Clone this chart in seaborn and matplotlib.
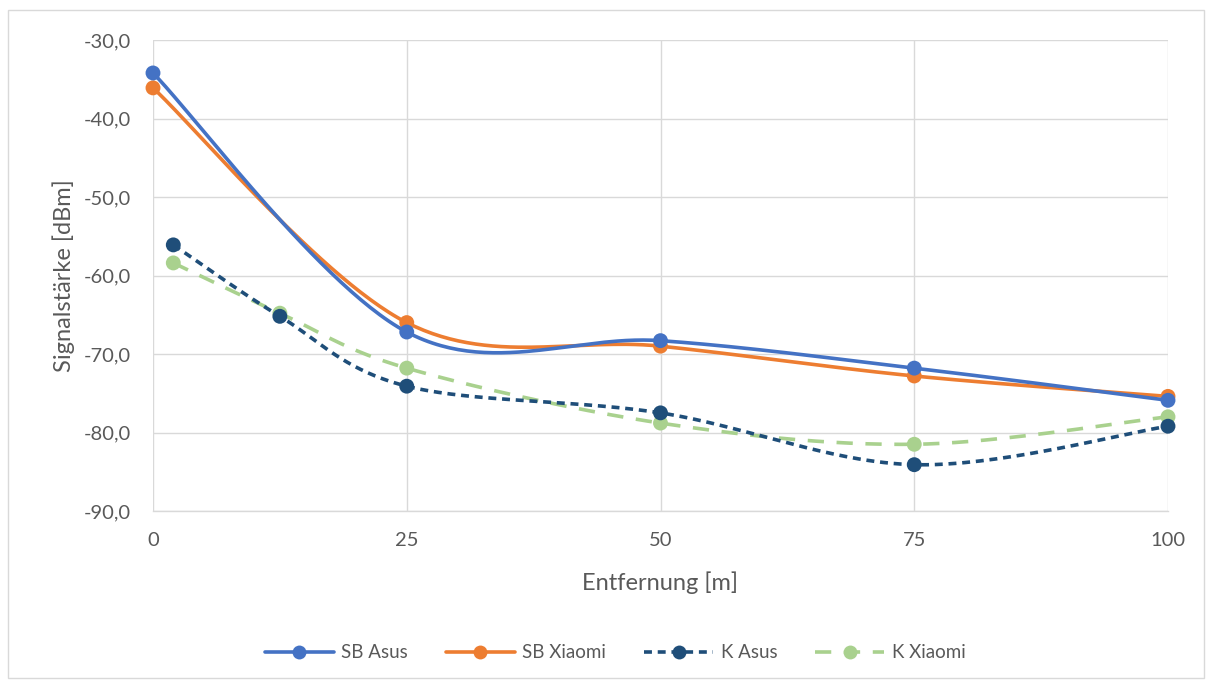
import numpy as np
import pandas as pd
import matplotlib
matplotlib.use("Agg")
import matplotlib.pyplot as plt
from matplotlib.lines import Line2D
from matplotlib.patches import Rectangle
from matplotlib.ticker import FuncFormatter, MultipleLocator
import seaborn as sns

# ---- data ----
x_sb = [0, 25, 50, 75, 100]
sb_asus = [-34.2, -67.2, -68.3, -71.8, -75.9]
sb_xiaomi = [-36.1, -66.0, -69.0, -72.8, -75.4]
x_k = [2, 12.5, 25, 50, 75, 100]
k_asus = [-56.1, -65.2, -74.1, -77.5, -84.1, -79.2]
k_xiaomi = [-58.4, -64.8, -71.8, -78.8, -81.5, -78.0]

series_names = ["SB Asus", "SB Xiaomi", "K Asus", "K Xiaomi"]
colors = ["#4472C4", "#ED7D31", "#1F4E79", "#A9D18E"]
dash_styles = [None, None, (2.2, 1.6), (4.5, 3.5)]
x_ticks = [0, 25, 50, 75, 100]
x_label = "Entfernung [m]"
y_label = "Signalstärke [dBm]"


def smooth(xs, ys, n=60):
    """Excel-like smoothed line (Catmull-Rom Bezier through the points)."""
    p = np.column_stack([xs, ys]).astype(float)
    out = []
    m = len(p)
    t = np.linspace(0, 1, n)[:, None]
    for i in range(m - 1):
        p0 = p[i - 1] if i > 0 else p[i]
        p1, p2 = p[i], p[i + 1]
        p3 = p[i + 2] if i + 2 < m else p[i + 1]
        c1 = p1 + (p2 - p0) / 6.0
        c2 = p2 - (p3 - p1) / 6.0
        seg = ((1 - t) ** 3) * p1 + 3 * ((1 - t) ** 2) * t * c1 + 3 * (1 - t) * t ** 2 * c2 + t ** 3 * p2
        out.append(seg if i == 0 else seg[1:])
    arr = np.vstack(out)
    return arr[:, 0], arr[:, 1]


sns.set_theme(style="white")
plt.rcParams["font.family"] = ["Lato", "DejaVu Sans"]

fig = plt.figure(figsize=(12.12, 6.86), dpi=100)
ax = fig.add_axes([153 / 1212, 1 - 511 / 686, (1168 - 153) / 1212, (511 - 40) / 686])

# outer chart border
fig.patches.append(Rectangle((8 / 1212, 1 - 678 / 686), (1204 - 8) / 1212, (678 - 10) / 686,
                             transform=fig.transFigure, fill=False, edgecolor="#D9D9D9", lw=1))

all_x = [x_sb, x_sb, x_k, x_k]
all_y = [sb_asus, sb_xiaomi, k_asus, k_xiaomi]
order = [3, 2, 1, 0]
for z, i in enumerate(order):
    sx, sy = smooth(all_x[i], all_y[i])
    df_line = pd.DataFrame({"x": sx, "y": sy})
    sns.lineplot(data=df_line, x="x", y="y", sort=False, estimator=None, ax=ax,
                 color=colors[i], lw=2.6, zorder=3 + z)
    line = ax.lines[-1]
    line.set_clip_on(False)
    if dash_styles[i] is not None:
        line.set_dashes(dash_styles[i])
    df_pts = pd.DataFrame({"x": all_x[i], "y": all_y[i]})
    sns.scatterplot(data=df_pts, x="x", y="y", ax=ax, color=colors[i], s=115,
                    edgecolor="none", zorder=3.5 + z, clip_on=False)

ax.set_xlim(0, 100)
ax.set_ylim(-90, -30)
ax.set_xticks(x_ticks)
ax.yaxis.set_major_locator(MultipleLocator(10))
ax.yaxis.set_major_formatter(FuncFormatter(lambda v, p: f"{v:.1f}".replace(".", ",")))
ax.grid(True, color="#D9D9D9", lw=1)
for s in ["left", "right", "top"]:
    ax.spines[s].set_visible(False)
ax.spines["bottom"].set_color("#D9D9D9")
ax.spines["bottom"].set_linewidth(1)
ax.tick_params(axis="both", length=0, labelsize=14.5, labelcolor="#595959")
ax.tick_params(axis="x", pad=15)
ax.tick_params(axis="y", pad=16)
ax.set_xlabel(x_label, fontsize=17, color="#595959")
ax.set_ylabel(y_label, fontsize=17, color="#595959")
ax.xaxis.set_label_coords(0.5, (511 - 571) / 471)
ax.yaxis.set_label_coords((75 - 153) / 1015, 0.5)

handles = []
for i in range(4):
    h = Line2D([0], [0], color=colors[i], lw=2.6, marker="o", markersize=10,
               markeredgewidth=0)
    if dash_styles[i] is not None:
        h.set_dashes(dash_styles[i])
    handles.append(h)
fig.legend(handles, series_names, loc="center", bbox_to_anchor=(615 / 1212, 1 - 653 / 686),
           ncol=4, frameon=False, fontsize=13.5, labelcolor="#595959",
           handlelength=3.7, columnspacing=2.0, handletextpad=0.4)

fig.savefig("out.png", dpi=100)
